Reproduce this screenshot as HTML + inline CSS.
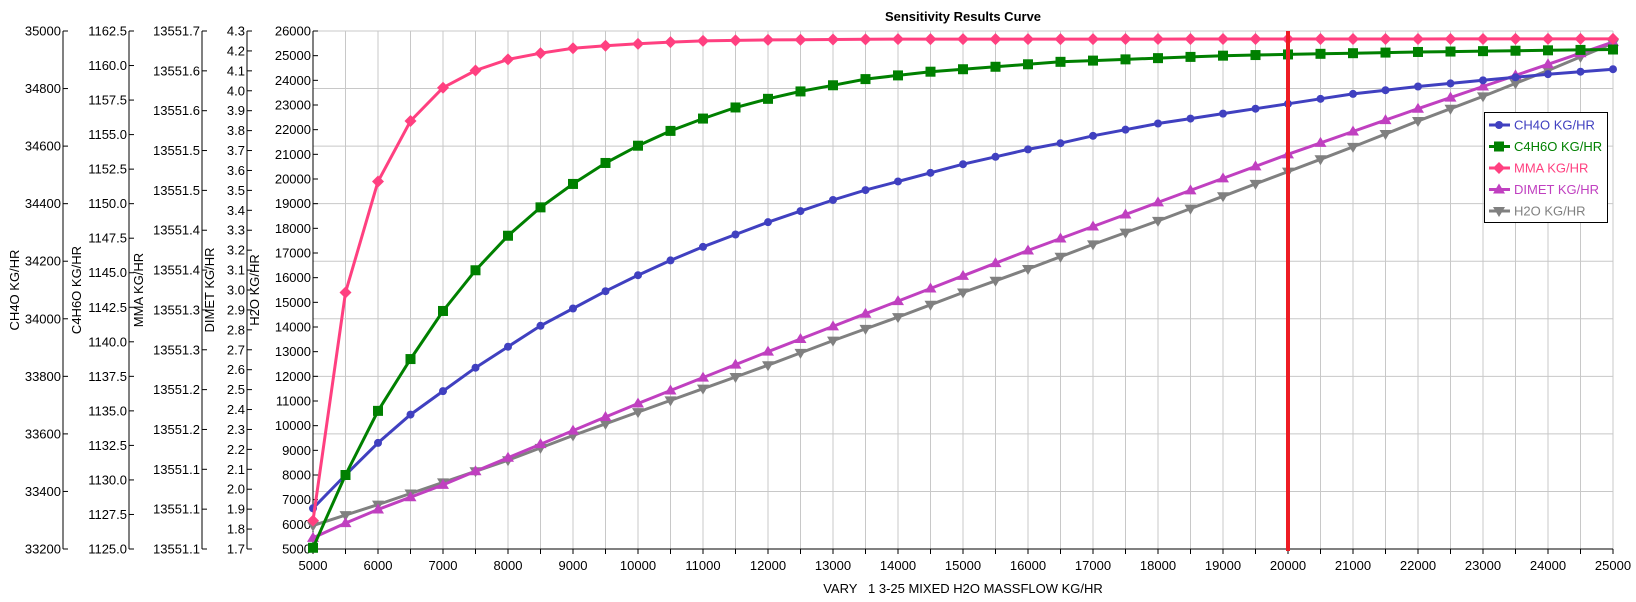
<!DOCTYPE html>
<html><head><meta charset="utf-8"><style>
body{margin:0;background:#fff;}
svg{display:block;font-family:"Liberation Sans","DejaVu Sans",sans-serif;}
</style></head><body>
<svg id="c" width="1636" height="602" xmlns="http://www.w3.org/2000/svg"></svg>
<script>
var s='',X0=313,X1=1613,YT=31,YB=549,FS=13;
function px(v){return X0+(v-5000)/20000*(X1-X0);}
function py(v){return YB-(v-5000)/21000*(YB-YT);}
for(var i=0;i<=40;i++){var x=X0+i*(X1-X0)/40;s+='<line x1="'+x+'" y1="'+YT+'" x2="'+x+'" y2="'+YB+'" stroke="#c8c8c8" stroke-width="1"/>';}
for(var i=0;i<=9;i++){var y=YT+i*(YB-YT)/9;s+='<line x1="'+X0+'" y1="'+y+'" x2="'+X1+'" y2="'+y+'" stroke="#c8c8c8" stroke-width="1"/>';}
s+='<line x1="'+X0+'" y1="'+YB+'" x2="'+X1+'" y2="'+YB+'" stroke="#000"/>';
for(var i=0;i<=40;i++){var x=X0+i*(X1-X0)/40;s+='<line x1="'+x+'" y1="'+YB+'" x2="'+x+'" y2="'+(YB+5)+'" stroke="#000"/>';if(i%2==0)s+='<text x="'+x+'" y="'+(YB+21)+'" font-size="'+FS+'" text-anchor="middle">'+(5000+i*500)+'</text>';}
s+='<text x="'+((X0+X1)/2)+'" y="593" font-size="'+FS+'" text-anchor="middle" xml:space="preserve">VARY   1 3-25 MIXED H2O MASSFLOW KG/HR</text>';
s+='<text x="963" y="21" font-size="13" font-weight="bold" text-anchor="middle">Sensitivity Results Curve</text>';
function axis(ax,labels,title,tx){s+='<line x1="'+ax+'" y1="'+YT+'" x2="'+ax+'" y2="'+YB+'" stroke="#000"/>';var n=labels.length-1;
for(var i=0;i<=n;i++){var y=YB-i*(YB-YT)/n;s+='<line x1="'+ax+'" y1="'+y+'" x2="'+(ax+5)+'" y2="'+y+'" stroke="#000"/><text x="'+(ax-2)+'" y="'+(y+4.5)+'" font-size="'+FS+'" text-anchor="end">'+labels[i]+'</text>';}
s+='<text transform="translate('+tx+',290) rotate(-90)" font-size="'+FS+'" text-anchor="middle">'+title+'</text>';}
var L=[];for(var v=33200;v<=35000;v+=200)L.push(v);axis(63,L,'CH4O KG/HR',19);
L=[];for(var v=1125;v<=1162.5;v+=2.5)L.push(v.toFixed(1));axis(129,L,'C4H6O KG/HR',81);
axis(202,['13551.1','13551.1','13551.1','13551.2','13551.2','13551.3','13551.3','13551.4','13551.4','13551.5','13551.5','13551.6','13551.6','13551.7'],'MMA KG/HR',143);
L=[];for(var i=0;i<=26;i++)L.push((1.7+i*0.1).toFixed(1));axis(247,L,'DIMET KG/HR',214);
L=[];for(var v=5000;v<=26000;v+=1000)L.push(v);axis(313,L,'H2O KG/HR',259);
function interp(pts){var out=[];for(var x=5000;x<=25000;x+=500){for(var k=0;k<pts.length-1;k++){if(x>=pts[k][0]&&x<=pts[k+1][0]){var t=(x-pts[k][0])/(pts[k+1][0]-pts[k][0]);out.push([x,pts[k][1]+t*(pts[k+1][1]-pts[k][1])]);break;}}}return out;}
var blue=[[5000,6650],[5500,8000],[6000,9300],[6500,10450],[7000,11400],[7500,12350],[8000,13200],[8500,14050],[9000,14750],[9500,15450],[10000,16100],[10500,16700],[11000,17250],[11500,17750],[12000,18250],[12500,18700],[13000,19150],[13500,19550],[14000,19900],[14500,20250],[15000,20600],[15500,20900],[16000,21200],[16500,21450],[17000,21750],[17500,22000],[18000,22250],[18500,22450],[19000,22650],[19500,22850],[20000,23050],[21000,23450],[22000,23750],[23000,24000],[24000,24250],[25000,24450]];
var green=[[5000,5050],[5500,8000],[6000,10600],[6500,12700],[7000,14650],[7500,16300],[8000,17700],[8500,18850],[9000,19800],[9500,20650],[10000,21350],[10500,21950],[11000,22450],[11500,22900],[12000,23250],[12500,23550],[13000,23800],[13500,24050],[14000,24200],[14500,24350],[15000,24450],[15500,24550],[16000,24650],[16500,24750],[17000,24800],[18000,24900],[19000,25000],[20000,25050],[21000,25100],[22000,25150],[25000,25250]];
var mma=[[5000,6150],[5500,15400],[6000,19900],[6500,22350],[7000,23700],[7500,24400],[8000,24850],[8500,25100],[9000,25300],[9500,25400],[10000,25480],[10500,25550],[11000,25600],[11500,25620],[12000,25640],[14000,25670],[25000,25680]];
var dim=[[5000,5450],[5500,6050],[6000,6600],[6500,7100],[7000,7600],[8000,8700],[10000,10900],[12000,13000],[14000,15050],[16000,17100],[18000,19050],[20000,21000],[22000,22850],[24000,24650],[25000,25550]];
var h2o=[[5000,5950],[6000,6800],[7000,7700],[8000,8600],[9000,9600],[10000,10550],[11000,11500],[12000,12450],[13000,13450],[14000,14400],[15000,15400],[16000,16350],[17000,17350],[18000,18300],[19000,19300],[20000,20300],[21000,21300],[22000,22350],[23000,23350],[24000,24400],[25000,25500]];
function marker(t,x,y,c){if(t=='c')return '<circle cx="'+x+'" cy="'+y+'" r="4" fill="'+c+'"/>';
if(t=='s')return '<rect x="'+(x-5)+'" y="'+(y-5)+'" width="10" height="10" fill="'+c+'"/>';
if(t=='d')return '<polygon points="'+x+','+(y-6)+' '+(x+6)+','+y+' '+x+','+(y+6)+' '+(x-6)+','+y+'" fill="'+c+'"/>';
if(t=='u')return '<polygon points="'+x+','+(y-6)+' '+(x+6)+','+(y+4)+' '+(x-6)+','+(y+4)+'" fill="'+c+'"/>';
return '<polygon points="'+x+','+(y+6)+' '+(x+6)+','+(y-4)+' '+(x-6)+','+(y-4)+'" fill="'+c+'"/>';}
function series(pts,c,t){var d=interp(pts),p='';d.forEach(function(q){p+=px(q[0]).toFixed(1)+','+py(q[1]).toFixed(1)+' ';});
s+='<polyline points="'+p+'" fill="none" stroke="'+c+'" stroke-width="3"/>';d.forEach(function(q){s+=marker(t,px(q[0]),py(q[1]),c);});}
series(h2o,'#808080','v');series(dim,'#c040c0','u');series(blue,'#4040c0','c');series(green,'#008000','s');series(mma,'#ff4080','d');
s+='<line x1="'+px(20000)+'" y1="'+YT+'" x2="'+px(20000)+'" y2="'+(YB+2)+'" stroke="#ee1c24" stroke-width="4"/>';
s+='<rect x="1484.5" y="112.5" width="123" height="110" fill="#fff" stroke="#000"/>';
var lg=[['CH4O KG/HR','#4040c0','c'],['C4H6O KG/HR','#008000','s'],['MMA KG/HR','#ff4080','d'],['DIMET KG/HR','#c040c0','u'],['H2O KG/HR','#808080','v']];
lg.forEach(function(e,i){var y=125+i*21.5;s+='<line x1="1489" y1="'+y+'" x2="1510" y2="'+y+'" stroke="'+e[1]+'" stroke-width="3"/>'+marker(e[2],1499,y,e[1])+'<text x="1514" y="'+(y+4.5)+'" font-size="'+FS+'" fill="'+e[1]+'">'+e[0]+'</text>';});
document.getElementById('c').innerHTML=s;
</script>
</body></html>
